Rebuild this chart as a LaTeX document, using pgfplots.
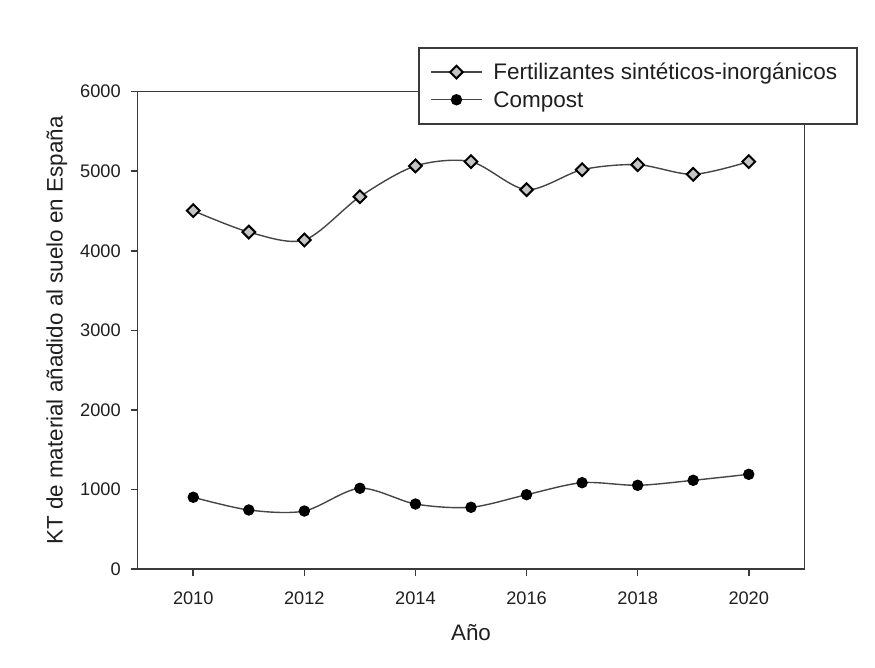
\documentclass[border=0pt]{standalone}
\usepackage{fontspec}
\setmainfont{Liberation Sans}
\usepackage{pgfplots}
\pgfplotsset{compat=1.18}

\definecolor{axisgray}{HTML}{3A3A3A}
\definecolor{curvegray}{HTML}{454545}
\definecolor{markfill}{HTML}{C4C4C4}

\pgfplotstableread{
year fert compost
2010 4505 905
2011 4237 745
2012 4137 732
2013 4681 1018
2014 5067 820
2015 5121 779
2016 4769 937
2017 5020 1088
2018 5083 1055
2019 4962 1118
2020 5121 1193
}\datatable

\begin{document}
\begin{tikzpicture}
\path[use as bounding box] (0,0) rectangle (437.5pt,334pt);
\begin{axis}[
  at={(68.85pt,49.35pt)}, anchor=south west,
  scale only axis, width=333.3pt, height=238.8pt,
  xmin=2009, xmax=2021, ymin=0, ymax=6000,
  xtick={2010,2012,...,2020}, ytick={0,1000,...,6000},
  minor tick num=0,
  tick pos=left, tick align=outside,
  major tick length=3.6pt,
  every tick/.style={axisgray, line width=0.8pt},
  axis line style={axisgray, line width=0.8pt},
  /pgf/number format/1000 sep={},
  /pgf/number format/assume math mode=true,
  ticklabel style={font=\fontsize{9.1}{11}\selectfont, text=black!88},
  xticklabel style={yshift=-4.3pt},
  yticklabel style={xshift=-1.4pt},
  label style={font=\fontsize{11.2}{13}\selectfont, text=black!88},
  xlabel={Año}, ylabel={KT de material añadido al suelo en España},
  xlabel style={at={(axis description cs:0.5,-0.1495)}, anchor=base},
  ylabel style={at={(axis description cs:-0.1125,0.5)}, anchor=base, rotate=0},
  legend style={
    at={(axis description cs:0.4209,1.093)}, anchor=north west,
    draw=axisgray, line width=0.8pt, fill=white,
    inner xsep=5.85pt, inner ysep=6.85pt,
    row sep=3.55pt,
    font=\fontsize{11.25}{13}\selectfont, text=black!88,
    nodes={inner sep=0pt, text height=9pt, text depth=1.3pt},
    /tikz/every odd column/.append style={column sep=5.6pt},
  },
  legend cell align=left,
  legend image code/.code={
    \draw[mark repeat=2, mark phase=2] plot coordinates {(0pt,0pt) (12.5pt,0pt) (25pt,0pt)};
  },
]
\addplot[curvegray, line width=0.7pt, smooth, tension=0.5,
  mark=square*, mark size=2.25pt,
  mark options={rotate=45, fill=markfill, draw=black, line width=1pt}]
  table[x=year, y=fert] {\datatable};
\addlegendentry{Fertilizantes sintéticos-inorgánicos\rule{4pt}{0pt}}
\addplot[curvegray, line width=0.7pt, smooth, tension=0.5,
  mark=*, mark size=2.6pt,
  mark options={fill=black, draw=black, line width=0.5pt}]
  table[x=year, y=compost] {\datatable};
\addlegendentry{Compost}
\end{axis}
\end{tikzpicture}
\end{document}
